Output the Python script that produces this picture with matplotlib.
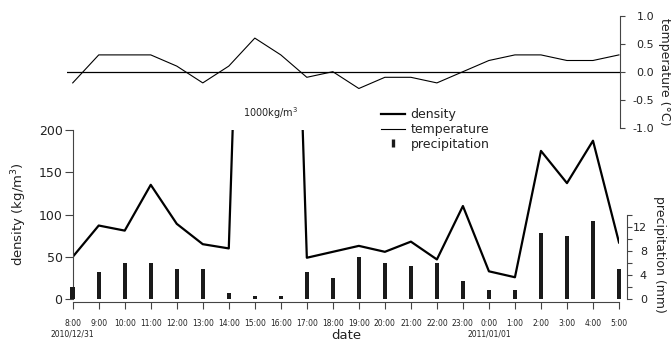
import matplotlib
matplotlib.use("Agg")
import numpy as np
import matplotlib.pyplot as plt
from matplotlib.lines import Line2D
from matplotlib.ticker import FormatStrFormatter

# ---- data ----
hours = ["8:00", "9:00", "10:00", "11:00", "12:00", "13:00", "14:00", "15:00",
         "16:00", "17:00", "18:00", "19:00", "20:00", "21:00", "22:00", "23:00",
         "0:00", "1:00", "2:00", "3:00", "4:00", "5:00"]
day_marks = {0: "2010/12/31", 16: "2011/01/01"}

density = [50, 87, 81, 135, 89, 65, 60, 1000, 1000, 49, 56, 63, 56, 68, 47, 110,
           33, 26, 175, 137, 187, 67]
temperature = [-0.2, 0.3, 0.3, 0.3, 0.1, -0.2, 0.1, 0.6, 0.3, -0.1, 0.0, -0.3,
               -0.1, -0.1, -0.2, 0.0, 0.2, 0.3, 0.3, 0.2, 0.2, 0.3]
precip = [2, 4.5, 6, 6, 5, 5, 1, 0.5, 0.5, 4.5, 3.5, 7, 6, 5.5, 6, 3, 1.5, 1.5,
          11, 10.5, 13, 5]

tick_labels = [h + ("\n" + day_marks[i] if i in day_marks else "")
               for i, h in enumerate(hours)]
x = np.arange(len(hours))

TXT = "#222222"
GRY = "#444444"
plt.rcParams["font.family"] = ["DejaVu Sans"]
plt.rcParams["text.color"] = TXT

W, H = 671, 342
fig = plt.figure(figsize=(W / 100, H / 100), dpi=100)


def rect(x0, y0, x1, y1):
    return [x0 / W, 1 - y1 / H, (x1 - x0) / W, (y1 - y0) / H]


# ---- bottom panel: density + precipitation ----
ax = fig.add_axes(rect(72.7, 129.7, 619, 299.3))
axp = ax.twinx()

ax.plot(x, density, color="k", lw=1.6)
ax.set_xlim(0, 21)
ax.set_ylim(0, 200)
ax.set_yticks([0, 50, 100, 150, 200])
ax.set_xticks(x)
ax.set_xticklabels(tick_labels, linespacing=1.25)
for s in ["top", "right"]:
    ax.spines[s].set_visible(False)
ax.spines["bottom"].set_position(("outward", 2.2))
for s in ["left", "bottom"]:
    ax.spines[s].set_color(GRY)
    ax.spines[s].set_linewidth(0.8)
ax.tick_params(axis="y", length=5.5, width=0.8, color=GRY, labelsize=9,
               labelcolor=TXT, pad=1.8)
ax.tick_params(axis="x", length=5, width=0.8, color=GRY, labelsize=5.5,
               labelcolor=TXT, pad=7)
ax.set_ylabel(r"density (kg/m$^3$)", fontsize=9.5, va="center", color=TXT)
ax.yaxis.set_label_coords(-0.098, 0.5)
ax.set_xlabel("date", fontsize=9.5, va="center", color=TXT)
ax.xaxis.set_label_coords(0.5, -0.213)
ax.annotate(r"1000kg/m$^3$", xy=(7.6, 200), xytext=(0, 6),
            textcoords="offset points", ha="center", va="bottom",
            fontsize=7, color=TXT, annotation_clip=False)

axp.bar(x, precip, width=0.17, color="#1a1a1a", clip_on=False)
axp.set_ylim(0, 28)
axp.set_yticks([0, 4, 8, 12])
axp.set_yticks([2, 6, 10, 14], minor=True)
for s in ["top", "left", "bottom"]:
    axp.spines[s].set_visible(False)
axp.spines["right"].set_position(("outward", 5.5))
axp.spines["right"].set_bounds(0, 14)
axp.spines["right"].set_color(GRY)
axp.spines["right"].set_linewidth(0.8)
axp.tick_params(axis="y", which="both", length=3.6, width=0.8, color=GRY,
                labelsize=8, labelcolor=TXT, pad=11)
for t in axp.get_yticklabels():
    t.set_ha("right")
axp.set_ylabel("precipitation (mm)", fontsize=9, rotation=270, va="center",
               ha="center", color=TXT)
axp.yaxis.set_label_coords(1.075, 0.267)

# ---- top panel: temperature ----
axt = fig.add_axes(rect(67, 15.7, 620, 127.7))
axt.plot(x, temperature, color="k", lw=0.8)
axt.axhline(0, color="k", lw=0.9)
axt.set_xlim(-0.22, 21.04)
axt.set_ylim(-1, 1)
axt.set_xticks([])
axt.set_yticks([-1, -0.5, 0, 0.5, 1])
axt.yaxis.set_major_formatter(FormatStrFormatter("%.1f"))
axt.yaxis.tick_right()
for s in ["top", "left", "bottom"]:
    axt.spines[s].set_visible(False)
axt.spines["right"].set_color(GRY)
axt.spines["right"].set_linewidth(0.8)
axt.tick_params(axis="y", length=3.6, width=0.8, color=GRY, labelsize=8,
                labelcolor=TXT, pad=21)
for t in axt.get_yticklabels():
    t.set_ha("right")
axt.yaxis.set_label_position("right")
axt.set_ylabel("temperature (°C)", fontsize=9, rotation=270, va="center",
               ha="center", color=TXT)
axt.yaxis.set_label_coords(1.0796, 0.5)
axt.patch.set_alpha(0)

# ---- legend ----
handles = [
    Line2D([], [], color="k", lw=1.6),
    Line2D([], [], color="k", lw=0.8),
    Line2D([], [], color="#1a1a1a", ls="none", marker="|", markersize=6,
           markeredgewidth=2.4),
]
fig.legend(handles, ["density", "temperature", "precipitation"],
           loc="upper left", bbox_to_anchor=(380.7 / W, 1 - 108 / H),
           frameon=False, fontsize=9, handlelength=1.95, handletextpad=0.45,
           labelspacing=0.15, borderpad=0, borderaxespad=0)

fig.savefig("out.png", dpi=100)
